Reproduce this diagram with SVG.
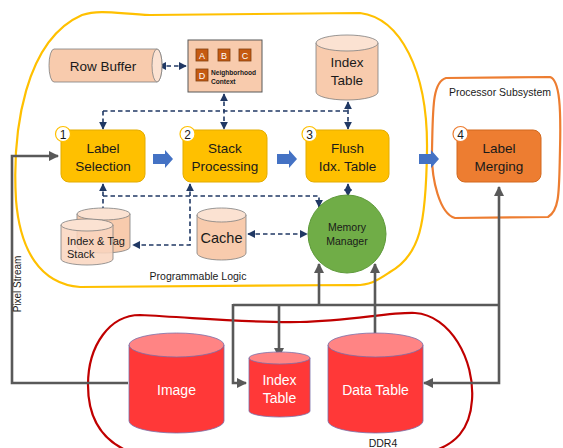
<svg xmlns="http://www.w3.org/2000/svg" width="563" height="448" viewBox="0 0 563 448">
<style>
  text { font-family: "Liberation Sans", Arial, sans-serif; }
  .peach { fill: #F8CBAD; stroke: #7F7F7F; stroke-width: 0.8; }
  .peachTop { fill: #FBE2D2; stroke: #7F7F7F; stroke-width: 0.8; }
  .red { fill: #FF3838; stroke: #7A6FA8; stroke-width: 0.8; }
  .redTop { fill: #FF8484; stroke: #7A6FA8; stroke-width: 0.8; }
  .ybox { fill: #FFC000; stroke: #E3AC00; stroke-width: 1; }
  .obox { fill: #ED7D31; stroke: #D2691E; stroke-width: 1; }
  .num { fill: #FFFFFF; stroke: #FFC000; stroke-width: 1.2; }
  .dash { fill: none; stroke: #203864; stroke-width: 1.6; stroke-dasharray: 4.5 3; }
  .gray { fill: none; stroke: #595959; stroke-width: 2.6; }
  .blk { fill: #4472C4; }
  .lbl { font-size: 13.5px; fill: #1a1a1a; text-anchor: middle; }
  .wlbl { font-size: 14px; fill: #FFFFFF; text-anchor: middle; }
  .sq { fill: #C55A11; stroke: #7F3F10; stroke-width: 0.8; }
  .sqt { font-size: 9px; fill: #FFFFFF; text-anchor: middle; }
</style>
<defs>
  <marker id="dh" viewBox="0 0 10 10" refX="9" refY="5" markerWidth="5" markerHeight="5" orient="auto-start-reverse">
    <path d="M0,0 L10,5 L0,10 Z" fill="#203864"/>
  </marker>
  <marker id="gh" viewBox="0 0 10 10" refX="9" refY="5" markerWidth="4" markerHeight="4" orient="auto-start-reverse">
    <path d="M0,0 L10,5 L0,10 Z" fill="#595959"/>
  </marker>
</defs>

<!-- regions -->
<g id="programmable-logic">
  <path d="M 82,15 C 100,9 120,14 150,15 L 360,13 C 400,18 428,70 427,150 C 426,225 420,255 390,272 C 378,280 370,286 352,285 L 80,287 C 40,284 20,250 16,200 C 12,130 25,40 82,15 Z" fill="none" stroke="#FFC000" stroke-width="2.2"/>
  <text x="198" y="280" font-size="10.5" fill="#1a1a1a" text-anchor="middle">Programmable Logic</text>
</g>
<g id="processor-subsystem">
  <path d="M 446,78 L 550,77 C 560,80 561,110 560,150 C 559,190 560,210 548,217 L 455,218 C 440,214 431,180 432,150 C 433,110 432,82 446,78 Z" fill="none" stroke="#ED7D31" stroke-width="2.2"/>
  <text x="500" y="96" font-size="10.5" fill="#1a1a1a" text-anchor="middle">Processor Subsystem</text>
</g>
<g id="ddr4">
  <path d="M 140,315 C 200,318 250,323 300,322 C 350,321 390,312 415,313 C 450,315 475,360 472,400 C 470,430 455,445 430,452 L 130,452 C 100,440 88,415 88,385 C 88,345 110,315 140,315 Z" fill="none" stroke="#C00000" stroke-width="2.2"/>
  <text x="383" y="447" font-size="10.5" fill="#1a1a1a" text-anchor="middle">DDR4</text>
</g>

<!-- connectors -->
<g id="connectors">
  <!-- dashed -->
  <line class="dash" x1="159" y1="66" x2="186" y2="66" marker-start="url(#dh)" marker-end="url(#dh)"/>
  <path class="dash" d="M 103,111 L 348,111"/>
  <path class="dash" d="M 103,111 L 103,129" marker-end="url(#dh)"/>
  <line class="dash" x1="224" y1="94" x2="224" y2="129" marker-start="url(#dh)" marker-end="url(#dh)"/>
  <line class="dash" x1="348" y1="102" x2="348" y2="129" marker-start="url(#dh)" marker-end="url(#dh)"/>
  <line class="dash" x1="103" y1="184" x2="103" y2="219" marker-start="url(#dh)" marker-end="url(#dh)"/>
  <path class="dash" d="M 103,196 L 319,196 L 319,207" marker-end="url(#dh)"/>
  <path class="dash" d="M 190,184 L 190,245 L 133,245" marker-start="url(#dh)" marker-end="url(#dh)"/>
  <line class="dash" x1="248" y1="234" x2="307" y2="234" marker-start="url(#dh)" marker-end="url(#dh)"/>
  <line class="dash" x1="348" y1="184" x2="348" y2="196" marker-start="url(#dh)" marker-end="url(#dh)"/>
  <!-- block arrows -->
  <polygon class="blk" points="153,154 165,154 165,150 173,159 165,168 165,164 153,164"/>
  <polygon class="blk" points="277,154 289,154 289,150 297,159 289,168 289,164 277,164"/>
  <polygon class="blk" points="419,154 431,154 431,150 439,159 431,168 431,164 419,164"/>
  <!-- gray -->
  <path class="gray" d="M 128,383 L 12,383 L 12,156 L 58,156" marker-end="url(#gh)"/>
  <path class="gray" d="M 233,305 L 499,305"/>
  <path class="gray" d="M 319,305 L 319,264" marker-end="url(#gh)"/>
  <line class="gray" x1="375" y1="264" x2="375" y2="355" marker-start="url(#gh)" marker-end="url(#gh)"/>
  <path class="gray" d="M 279,305 L 279,357" marker-end="url(#gh)"/>
  <path class="gray" d="M 233,304 L 233,383 L 246,383" marker-end="url(#gh)"/>
  <path class="gray" d="M 424,383 L 499,383 L 499,187" marker-start="url(#gh)" marker-end="url(#gh)"/>
  <text transform="translate(21,284) rotate(-90)" font-size="10" fill="#1a1a1a" text-anchor="middle">Pixel Stream</text>
</g>

<!-- nodes -->
<g id="row-buffer">
  <path class="peach" d="M 157,49 L 54,49 A 5,16.5 0 0 0 54,82 L 157,82 A 5,16.5 0 0 0 157,49 Z"/>
  <ellipse class="peachTop" cx="157" cy="65.5" rx="5" ry="16.5"/>
  <text class="lbl" x="103" y="71">Row Buffer</text>
</g>
<g id="neighborhood-context">
  <rect x="188" y="40" width="74" height="52" fill="#F8CBAD" stroke="#595959" stroke-width="1"/>
  <rect class="sq" x="196" y="49" width="12" height="12"/>
  <text class="sqt" x="202" y="58.5">A</text>
  <rect class="sq" x="218" y="49" width="12" height="12"/>
  <text class="sqt" x="224" y="58.5">B</text>
  <rect class="sq" x="239" y="49" width="12" height="12"/>
  <text class="sqt" x="245" y="58.5">C</text>
  <rect class="sq" x="196" y="69" width="12" height="12"/>
  <text class="sqt" x="202" y="78.5">D</text>
  <text x="211" y="75" font-size="6.6" font-weight="bold" fill="#1a1a1a">Neighborhood</text>
  <text x="211" y="84" font-size="6.6" font-weight="bold" fill="#1a1a1a">Context</text>
</g>
<g id="index-table-pl">
  <path class="peach" d="M 316,43 L 316,92 A 31,8 0 0 0 378,92 L 378,43 Z"/>
  <ellipse class="peachTop" cx="347" cy="43" rx="31" ry="8"/>
  <text class="lbl" x="347" y="67">Index</text>
  <text class="lbl" x="347" y="85">Table</text>
</g>
<g id="label-selection">
  <rect class="ybox" x="61" y="130" width="84" height="52" rx="8"/>
  <text class="lbl" x="103" y="153">Label</text>
  <text class="lbl" x="103" y="171">Selection</text>
  <circle class="num" cx="63" cy="134" r="7.5"/>
  <text x="63" y="138.5" font-size="12" fill="#1a1a1a" text-anchor="middle">1</text>
</g>
<g id="stack-processing">
  <rect class="ybox" x="183" y="130" width="84" height="52" rx="8"/>
  <text class="lbl" x="225" y="153">Stack</text>
  <text class="lbl" x="225" y="171">Processing</text>
  <circle class="num" cx="187.5" cy="134" r="7.5"/>
  <text x="187.5" y="138.5" font-size="12" fill="#1a1a1a" text-anchor="middle">2</text>
</g>
<g id="flush-idx-table">
  <rect class="ybox" x="306" y="130" width="83" height="52" rx="8"/>
  <text class="lbl" x="347.5" y="153">Flush</text>
  <text class="lbl" x="347.5" y="171">Idx. Table</text>
  <circle class="num" cx="309.5" cy="134" r="7.5"/>
  <text x="309.5" y="138.5" font-size="12" fill="#1a1a1a" text-anchor="middle">3</text>
</g>
<g id="label-merging">
  <rect class="obox" x="457" y="130" width="84" height="52" rx="8"/>
  <text class="lbl" x="499" y="153">Label</text>
  <text class="lbl" x="499" y="171">Merging</text>
  <circle cx="460.5" cy="134" r="7.5" fill="#FFFFFF" stroke="#ED7D31" stroke-width="1.2"/>
  <text x="460.5" y="138.5" font-size="12" fill="#1a1a1a" text-anchor="middle">4</text>
</g>
<g id="index-tag-stack">
  <path class="peach" d="M 77,214 L 77,247 A 26.5,6 0 0 0 130,247 L 130,214 Z"/>
  <ellipse class="peachTop" cx="103.5" cy="214" rx="26.5" ry="6"/>
  <path d="M 61,225 L 61,259 A 26,6 0 0 0 113,259 L 113,225 Z" fill="#F9D5BE" fill-opacity="0.85" stroke="#7F7F7F" stroke-width="0.8"/>
  <ellipse class="peachTop" cx="87" cy="225" rx="26" ry="6"/>
  <text x="67" y="245" font-size="11" fill="#1a1a1a">Index &amp; Tag</text>
  <text x="67" y="258" font-size="11" fill="#1a1a1a">Stack</text>
</g>
<g id="cache">
  <path class="peach" d="M 197,215 L 197,253 A 24.5,7 0 0 0 246,253 L 246,215 Z"/>
  <ellipse class="peachTop" cx="221.5" cy="215" rx="24.5" ry="7"/>
  <text x="221.5" y="243" font-size="14.5" fill="#1a1a1a" text-anchor="middle">Cache</text>
</g>
<g id="memory-manager">
  <circle cx="347" cy="234" r="39" fill="#70AD47" stroke="#5E9A3A" stroke-width="1"/>
  <text x="347" y="231" font-size="10.5" fill="#1a1a1a" text-anchor="middle">Memory</text>
  <text x="347" y="245" font-size="10.5" fill="#1a1a1a" text-anchor="middle">Manager</text>
</g>
<g id="image">
  <path class="red" d="M 129,345 L 129,421 A 47.5,12 0 0 0 224,421 L 224,345 Z"/>
  <ellipse class="redTop" cx="176.5" cy="345" rx="47.5" ry="12"/>
  <text class="wlbl" x="176.5" y="395">Image</text>
</g>
<g id="index-table-ddr">
  <path class="red" d="M 249,358 L 249,411 A 30.5,6 0 0 0 310,411 L 310,358 Z"/>
  <ellipse class="redTop" cx="279.5" cy="358" rx="30.5" ry="6"/>
  <text class="wlbl" x="279.5" y="385">Index</text>
  <text class="wlbl" x="279.5" y="403">Table</text>
</g>
<g id="data-table">
  <path class="red" d="M 328,345 L 328,421 A 47.5,12 0 0 0 423,421 L 423,345 Z"/>
  <ellipse class="redTop" cx="375.5" cy="345" rx="47.5" ry="12"/>
  <text class="wlbl" x="375.5" y="395">Data Table</text>
</g>
</svg>
